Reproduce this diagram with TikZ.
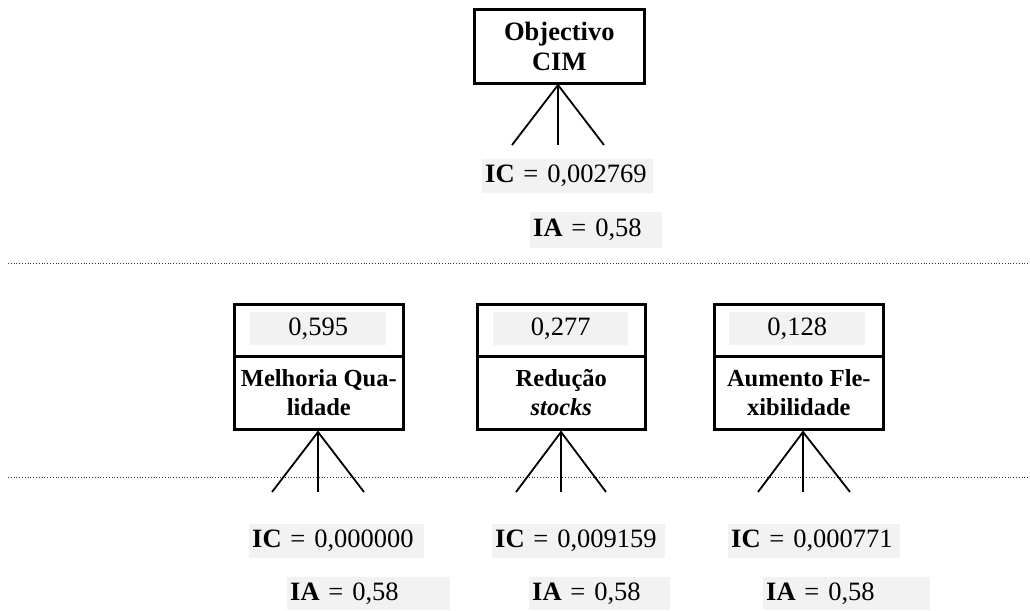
\documentclass[tikz,border=0pt]{standalone}
\usepackage{fontspec}
\setmainfont{Liberation Serif}
\begin{document}
\begin{tikzpicture}[x=1pt,y=-1pt,
  box/.style={draw=black,line width=2.6pt,inner sep=0pt,anchor=north west,align=center,font=\fontsize{24.5}{29}\selectfont\bfseries},
  valbox/.style={draw=black,line width=2.6pt,inner sep=0pt,anchor=north west},
  grayval/.style={fill=graybg,inner sep=0pt,anchor=north west,font=\fontsize{26.5}{30}\selectfont},
  info/.style={fill=graybg,inner xsep=3pt,inner ysep=0pt,anchor=north west,align=left,font=\fontsize{26.5}{30}\selectfont},
  fan/.style={line width=1.8pt},
  sep/.style={line width=0.8pt,dotted,black!80}]
\definecolor{graybg}{HTML}{F2F2F2}
\useasboundingbox (0,0) rectangle (1030,610);
% separators
\coordinate (s1a) at (8,263); \coordinate (s1b) at (1030,263);
\coordinate (s2a) at (8,477); \coordinate (s2b) at (1030,477);
\draw[sep] (s1a) -- (s1b);
\draw[sep] (s2a) -- (s2b);
% top goal
\node[box,font=\fontsize{26.5}{30}\selectfont\bfseries,minimum width=170,minimum height=74] (goal) at (473,8) {Objectivo\\CIM};
\coordinate (ga) at (558,85);
\coordinate (g1) at (512,145); \coordinate (g2) at (558,145); \coordinate (g3) at (604,145);
\draw[fan] (g1) -- (ga) -- (g3); \draw[fan] (ga) -- (g2);
\node[info,text width=165,minimum height=34] (gic) at (482,159) {\textbf{IC} = 0,002769};
\node[info,text width=126,minimum height=36] (gia) at (530,212) {\textbf{IA} = 0,58};
% criterion 1
\node[valbox,minimum width=169,minimum height=52] (c1v) at (233,303) {};
\node[grayval,minimum width=136,minimum height=33] (c1g) at (250,312) {0,595};
\node[box,minimum width=169,minimum height=73] (c1) at (233,355) {Melhoria Qua-\\lidade};
\coordinate (c1a) at (318,432);
\coordinate (c11) at (272,492); \coordinate (c12) at (318,492); \coordinate (c13) at (364,492);
\draw[fan] (c11) -- (c1a) -- (c13); \draw[fan] (c1a) -- (c12);
\node[info,text width=169,minimum height=34] (c1ic) at (249,524) {\textbf{IC} = 0,000000};
\node[info,text width=157,minimum height=33] (c1ia) at (287,577) {\textbf{IA} = 0,58};
% criterion 2
\node[valbox,minimum width=168,minimum height=52] (c2v) at (476,303) {};
\node[grayval,minimum width=135,minimum height=33] (c2g) at (493,312) {0,277};
\node[box,minimum width=168,minimum height=73] (c2) at (476,355) {Redução\\\textit{stocks}};
\coordinate (c2a) at (561,432);
\coordinate (c21) at (516,492); \coordinate (c22) at (561,492); \coordinate (c23) at (606,492);
\draw[fan] (c21) -- (c2a) -- (c23); \draw[fan] (c2a) -- (c22);
\node[info,text width=167,minimum height=34] (c2ic) at (492,524) {\textbf{IC} = 0,009159};
\node[info,text width=135,minimum height=33] (c2ia) at (529,577) {\textbf{IA} = 0,58};
% criterion 3
\node[valbox,minimum width=169,minimum height=52] (c3v) at (713,303) {};
\node[grayval,minimum width=136,minimum height=33] (c3g) at (729,312) {0,128};
\node[box,minimum width=169,minimum height=73] (c3) at (713,355) {Aumento Fle-\\xibilidade};
\coordinate (c3a) at (803,432);
\coordinate (c31) at (758,492); \coordinate (c32) at (803,492); \coordinate (c33) at (850,492);
\draw[fan] (c31) -- (c3a) -- (c33); \draw[fan] (c3a) -- (c32);
\node[info,text width=166,minimum height=34] (c3ic) at (728,524) {\textbf{IC} = 0,000771};
\node[info,text width=161,minimum height=33] (c3ia) at (763,577) {\textbf{IA} = 0,58};
\end{tikzpicture}
\end{document}
